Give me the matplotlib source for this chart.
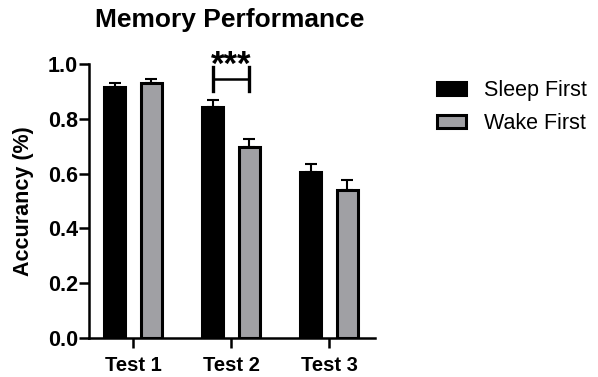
import matplotlib
matplotlib.use("Agg")
import matplotlib.pyplot as plt
import numpy as np

plt.rcParams['font.family'] = ['Liberation Sans', 'DejaVu Sans']

categories = ["Test 1", "Test 2", "Test 3"]
series_names = ["Sleep First", "Wake First"]
sleep_first = [0.915, 0.843, 0.605]
sleep_err = [0.017, 0.025, 0.031]
wake_first = [0.930, 0.696, 0.540]
wake_err = [0.016, 0.031, 0.038]
y_ticks = [0.0, 0.2, 0.4, 0.6, 0.8, 1.0]
sig_label = "***"

fig = plt.figure(figsize=(5.98, 3.77), dpi=100)
ax = fig.add_axes([89/598, 39/377, (375-89)/598, (338-64)/377])

x = np.arange(len(categories))
off = 0.185
w = 0.215
colors = ["#000000", "#a0a0a4"]
for vals, errs, sgn, col, name in [(sleep_first, sleep_err, -1, colors[0], series_names[0]),
                                   (wake_first, wake_err, 1, colors[1], series_names[1])]:
    ax.bar(x + sgn*off, vals, width=w, color=col, edgecolor="black", linewidth=2.2, label=name, zorder=2)
    ax.errorbar(x + sgn*off, vals, yerr=[np.zeros(len(vals)), errs], fmt="none",
                ecolor="black", elinewidth=1.5, capsize=4.5, capthick=1.5, zorder=1)

ax.set_xlim(-0.45, 2.47)
ax.set_ylim(0, 1.0)
ax.set_yticks(y_ticks)
ax.set_yticklabels([f"{t:.1f}" for t in y_ticks], fontsize=15.5, fontweight="bold")
ax.set_xticks(x)
ax.set_xticklabels(categories, fontsize=14.5, fontweight="bold")
for s in ["top", "right"]:
    ax.spines[s].set_visible(False)
for s in ["left", "bottom"]:
    ax.spines[s].set_linewidth(1.8)
ax.tick_params(axis="both", width=1.8, length=7)
ax.tick_params(axis="x", pad=6)
ax.tick_params(axis="y", pad=1)
ax.set_ylabel("Accurancy (%)", fontsize=15.5, fontweight="bold")
ax.yaxis.set_label_coords(-0.192, 0.5)

# significance bracket
x1, x2 = 1 - off, 1 + off
ax.plot([x1, x2], [0.945, 0.945], color="black", linewidth=1.8, clip_on=False, zorder=3)
ax.plot([x1, x1], [0.903, 0.988], color="black", linewidth=2.4, clip_on=False, zorder=3)
ax.plot([x2, x2], [0.903, 0.988], color="black", linewidth=2.4, clip_on=False, zorder=3)
ax.text(1, 0.962, sig_label, ha="center", va="baseline", fontsize=25, fontweight="bold", clip_on=False)

fig.text(230/598, 1 - 20/377, "Memory Performance", ha="center", va="center", fontsize=19, fontweight="bold")

fig.legend(loc="upper left", bbox_to_anchor=(418/598, 1 - 61/377), frameon=False,
           fontsize=15.5, handlelength=1.35, handleheight=0.55, labelspacing=0.55, handletextpad=0.8)

fig.savefig("out.png", dpi=100)
